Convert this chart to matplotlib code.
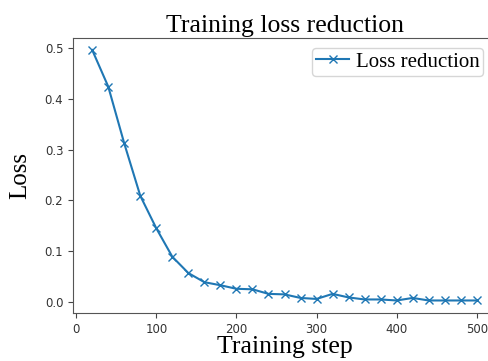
import matplotlib
matplotlib.use("Agg")
import matplotlib.pyplot as plt

steps = [20, 40, 60, 80, 100, 120, 140, 160, 180, 200, 220, 240, 260,
         280, 300, 320, 340, 360, 380, 400, 420, 440, 460, 480, 500]
loss = [0.496, 0.424, 0.312, 0.209, 0.145, 0.089, 0.057, 0.039, 0.033, 0.026,
        0.025, 0.016, 0.015, 0.008, 0.006, 0.016, 0.009, 0.005, 0.005, 0.003,
        0.008, 0.003, 0.003, 0.003, 0.003]

fig = plt.figure(figsize=(4.88, 3.61), dpi=100)
ax = fig.add_axes([73/488, 48/361, (496-73)/488, (313-37.5)/361])
ax.plot(steps, loss, marker='x', color='#1f77b4', label='Loss reduction')
serif = 'Liberation Serif'
ax.set_title('Training loss reduction', fontfamily=serif, fontsize=18.5, pad=4)
ax.set_xlabel('Training step', fontfamily=serif, fontsize=18.5, labelpad=0)
ax.set_ylabel('Loss', fontfamily=serif, fontsize=18, labelpad=10)
ax.tick_params(labelsize=8.5, labelcolor='#333333', color='#444444')
for s in ax.spines.values():
    s.set_color('#555555')
ax.set_xticks([0, 100, 200, 300, 400, 500])
ax.set_yticks([0.0, 0.1, 0.2, 0.3, 0.4, 0.5])
ax.legend(loc='upper right', prop={'family': serif, 'size': 15},
          handlelength=1.6, borderpad=0.2, handletextpad=0.3,
          bbox_to_anchor=(0.995, 1.0))
fig.savefig('out.png', dpi=100)
